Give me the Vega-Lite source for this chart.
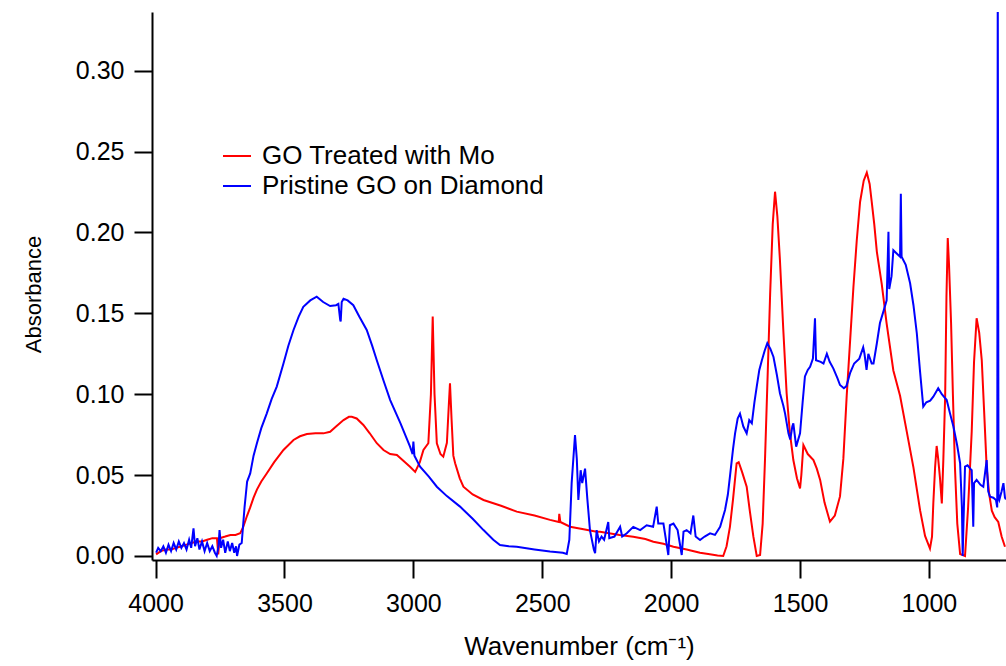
{
  "$schema": "https://vega.github.io/schema/vega-lite/v6.json",
  "width": 854,
  "height": 548,
  "autosize": {"type": "none"},
  "padding": {"left": 152, "top": 12, "right": 0, "bottom": 106},
  "background": "white",
  "config": {"view": {"stroke": null}, "font": "Liberation Sans"},
  "datasets": {
    "mo": [
      [3998,0.001],[3980,0.003],[3960,0.004],[3940,0.004],[3920,0.005],[3900,0.006],[3880,0.007],[3860,0.008],[3840,0.009],[3820,0.009],[3800,0.010],[3780,0.011],[3762,0.011],[3757,0.001],[3752,0.011],[3730,0.012],[3710,0.013],[3690,0.013],[3672,0.014],[3660,0.018],[3645,0.025],[3633,0.030],[3620,0.036],[3607,0.041],[3590,0.046],[3569,0.051],[3540,0.058],[3504,0.0655],[3465,0.0717],[3440,0.074],[3413,0.0754],[3380,0.0758],[3349,0.0758],[3323,0.0768],[3300,0.080],[3271,0.084],[3250,0.086],[3239,0.0861],[3220,0.085],[3194,0.081],[3170,0.076],[3142,0.0697],[3116,0.0655],[3090,0.063],[3064,0.0624],[3040,0.059],[3013,0.0552],[2993,0.052],[2975,0.058],[2961,0.0655],[2942,0.0697],[2932,0.1],[2925,0.148],[2918,0.10],[2909,0.0697],[2895,0.063],[2884,0.0614],[2870,0.07],[2862,0.095],[2858,0.1068],[2852,0.085],[2845,0.062],[2838,0.0573],[2820,0.048],[2806,0.0428],[2770,0.038],[2728,0.0346],[2660,0.031],[2599,0.0274],[2530,0.025],[2470,0.0223],[2436,0.021],[2434,0.026],[2430,0.021],[2392,0.0181],[2340,0.0165],[2289,0.015],[2276,0.015],[2200,0.013],[2147,0.0119],[2100,0.0105],[2069,0.0088],[2030,0.0075],[1991,0.0057],[1940,0.004],[1888,0.002],[1850,0.001],[1820,0.0003],[1798,0.0],[1785,0.006],[1772,0.018],[1760,0.035],[1746,0.0573],[1738,0.058],[1725,0.052],[1707,0.0428],[1695,0.028],[1681,0.0119],[1668,0.0],[1655,0.0006],[1645,0.02],[1636,0.0593],[1626,0.11],[1616,0.162],[1606,0.205],[1597,0.2252],[1588,0.21],[1578,0.183],[1565,0.14],[1552,0.1006],[1540,0.077],[1526,0.0593],[1512,0.048],[1500,0.0418],[1495,0.05],[1487,0.0686],[1470,0.063],[1448,0.0593],[1435,0.054],[1422,0.047],[1405,0.033],[1384,0.0212],[1365,0.025],[1345,0.0368],[1332,0.06],[1319,0.099],[1305,0.135],[1293,0.166],[1280,0.195],[1267,0.219],[1253,0.232],[1241,0.237],[1230,0.230],[1222,0.219],[1212,0.205],[1202,0.188],[1183,0.168],[1164,0.1436],[1138,0.1147],[1112,0.099],[1086,0.0769],[1060,0.0546],[1034,0.028],[1015,0.0124],[996,0.0046],[988,0.012],[983,0.0324],[976,0.055],[970,0.068],[964,0.06],[957,0.048],[950,0.0324],[944,0.06],[937,0.099],[932,0.16],[927,0.1965],[922,0.18],[914,0.1436],[907,0.10],[899,0.0546],[890,0.02],[879,0.0012],[860,0.0],[848,0.03],[834,0.0769],[825,0.12],[815,0.147],[805,0.138],[795,0.121],[786,0.09],[776,0.0546],[766,0.038],[756,0.028],[745,0.024],[731,0.021],[718,0.012],[705,0.0057]
    ],
    "pristine": [
      [3998,0.002],[3990,0.005],[3980,0.003],[3970,0.006],[3960,0.002],[3950,0.007],[3940,0.003],[3930,0.008],[3920,0.004],[3910,0.009],[3900,0.005],[3890,0.008],[3880,0.004],[3870,0.01],[3862,0.005],[3853,0.017],[3847,0.006],[3838,0.011],[3830,0.004],[3820,0.009],[3810,0.003],[3800,0.008],[3790,0.003],[3780,0.006],[3770,0.002],[3763,0.0],[3756,0.006],[3752,0.016],[3746,0.005],[3738,0.010],[3730,0.002],[3720,0.009],[3712,0.003],[3703,0.008],[3695,0.002],[3688,0.006],[3684,0.0],[3675,0.007],[3666,0.008],[3660,0.02],[3655,0.03],[3650,0.038],[3645,0.046],[3633,0.051],[3620,0.062],[3607,0.0697],[3590,0.079],[3569,0.088],[3550,0.097],[3530,0.1047],[3504,0.119],[3485,0.13],[3465,0.1397],[3445,0.148],[3427,0.154],[3400,0.158],[3375,0.1603],[3350,0.157],[3323,0.1545],[3300,0.155],[3291,0.1558],[3284,0.146],[3282,0.145],[3278,0.157],[3271,0.159],[3255,0.158],[3233,0.155],[3210,0.148],[3181,0.1397],[3160,0.13],[3142,0.121],[3115,0.108],[3090,0.0964],[3050,0.082],[3013,0.0676],[3003,0.063],[3000,0.0707],[2996,0.062],[2974,0.0552],[2940,0.049],[2909,0.0428],[2870,0.037],[2819,0.0305],[2770,0.023],[2728,0.016],[2690,0.01],[2664,0.0068],[2630,0.006],[2599,0.0057],[2530,0.004],[2470,0.0027],[2420,0.002],[2405,0.0012],[2395,0.01],[2386,0.045],[2373,0.0748],[2366,0.06],[2360,0.0346],[2351,0.053],[2345,0.045],[2334,0.054],[2325,0.035],[2315,0.016],[2300,0.004],[2295,0.0017],[2289,0.016],[2280,0.009],[2270,0.012],[2260,0.01],[2244,0.021],[2240,0.011],[2220,0.012],[2198,0.018],[2190,0.012],[2172,0.014],[2147,0.018],[2120,0.016],[2095,0.019],[2070,0.018],[2056,0.0305],[2050,0.02],[2030,0.020],[2011,0.0006],[2005,0.019],[1991,0.020],[1975,0.016],[1959,0.0006],[1952,0.015],[1940,0.016],[1925,0.014],[1914,0.025],[1905,0.012],[1888,0.0099],[1870,0.012],[1849,0.014],[1830,0.013],[1810,0.018],[1791,0.0284],[1780,0.038],[1772,0.049],[1760,0.066],[1752,0.0758],[1742,0.085],[1733,0.088],[1720,0.08],[1707,0.0758],[1697,0.084],[1687,0.082],[1677,0.095],[1668,0.1047],[1658,0.115],[1648,0.121],[1637,0.127],[1627,0.1315],[1615,0.128],[1603,0.123],[1590,0.112],[1578,0.1006],[1565,0.093],[1558,0.088],[1545,0.0758],[1538,0.072],[1530,0.08],[1526,0.082],[1515,0.0676],[1500,0.0758],[1490,0.095],[1481,0.111],[1470,0.115],[1461,0.117],[1450,0.122],[1442,0.147],[1438,0.121],[1420,0.12],[1409,0.119],[1396,0.125],[1385,0.12],[1371,0.116],[1355,0.11],[1345,0.1057],[1330,0.1037],[1320,0.105],[1306,0.113],[1290,0.119],[1270,0.122],[1255,0.129],[1250,0.125],[1242,0.115],[1235,0.125],[1222,0.119],[1215,0.119],[1202,0.1315],[1190,0.144],[1175,0.152],[1164,0.158],[1157,0.2005],[1154,0.165],[1145,0.173],[1138,0.189],[1125,0.187],[1112,0.185],[1109,0.224],[1106,0.185],[1090,0.18],[1073,0.1686],[1060,0.155],[1047,0.1377],[1035,0.115],[1022,0.0923],[1010,0.095],[995,0.096],[983,0.0985],[964,0.1037],[950,0.1],[931,0.0964],[918,0.088],[905,0.08],[890,0.068],[879,0.0573],[872,0.03],[869,0.0],[866,0.02],[860,0.0552],[850,0.056],[840,0.054],[834,0.053],[830,0.03],[828,0.018],[825,0.045],[815,0.047],[800,0.044],[789,0.0428],[776,0.0593],[770,0.04],[763,0.0367],[750,0.036],[740,0.0346],[735,0.03],[733,0.36],[730,0.036],[727,0.0346],[718,0.04],[711,0.045],[705,0.036],[701,0.035]
    ]
  },
  "layer": [
    {
      "data": {"name": "mo"},
      "transform": [
        {"calculate": "datum[0]", "as": "wavenumber"},
        {"calculate": "datum[1]", "as": "absorbance"}
      ],
      "mark": {"type": "line", "strokeWidth": 2, "clip": true},
      "encoding": {
        "x": {"field": "wavenumber", "type": "quantitative"},
        "y": {"field": "absorbance", "type": "quantitative"},
        "color": {"datum": "GO Treated with Mo"}
      }
    },
    {
      "data": {"name": "pristine"},
      "transform": [
        {"calculate": "datum[0]", "as": "wavenumber"},
        {"calculate": "datum[1]", "as": "absorbance"}
      ],
      "mark": {"type": "line", "strokeWidth": 2, "clip": true},
      "encoding": {
        "x": {"field": "wavenumber", "type": "quantitative"},
        "y": {"field": "absorbance", "type": "quantitative"},
        "color": {"datum": "Pristine GO on Diamond"}
      }
    }
  ],
  "encoding": {
    "x": {
      "field": "wavenumber", "type": "quantitative",
      "scale": {"domain": [701, 4014], "reverse": true, "nice": false, "zero": false},
      "axis": {
        "values": [4000, 3500, 3000, 2500, 2000, 1500, 1000],
        "format": "d", "title": "Wavenumber (cm⁻¹)", "grid": false,
        "tickSize": 18, "tickWidth": 2, "tickColor": "black",
        "domainColor": "black", "domainWidth": 2,
        "labelFontSize": 25, "labelColor": "black", "labelPadding": 13, "labelFlush": false,
        "titleFontSize": 26, "titleFontWeight": "normal", "titleColor": "black", "titlePadding": 17
      }
    },
    "y": {
      "field": "absorbance", "type": "quantitative",
      "scale": {"domain": [-0.0025, 0.3363], "nice": false, "zero": false},
      "axis": {
        "values": [0, 0.05, 0.1, 0.15, 0.2, 0.25, 0.3],
        "format": ".2f", "title": "Absorbance", "grid": false,
        "tickSize": 18, "tickWidth": 2, "tickColor": "black",
        "domainColor": "black", "domainWidth": 2,
        "labelFontSize": 25, "labelColor": "black", "labelPadding": 10, "labelFlush": false,
        "titleFontSize": 22, "titleFontWeight": "normal", "titleColor": "black", "titlePadding": 30, "titleY": 282
      }
    },
    "color": {
      "type": "nominal",
      "scale": {"domain": ["GO Treated with Mo", "Pristine GO on Diamond"], "range": ["#ff0000", "#0000ff"]},
      "legend": {
        "orient": "none", "legendX": 70, "legendY": 129, "title": null,
        "symbolType": "stroke", "symbolSize": 784, "symbolStrokeWidth": 2,
        "labelFontSize": 26, "labelColor": "black", "labelOffset": 10,
        "rowPadding": 2, "padding": 0, "labelLimit": 0
      }
    }
  }
}
